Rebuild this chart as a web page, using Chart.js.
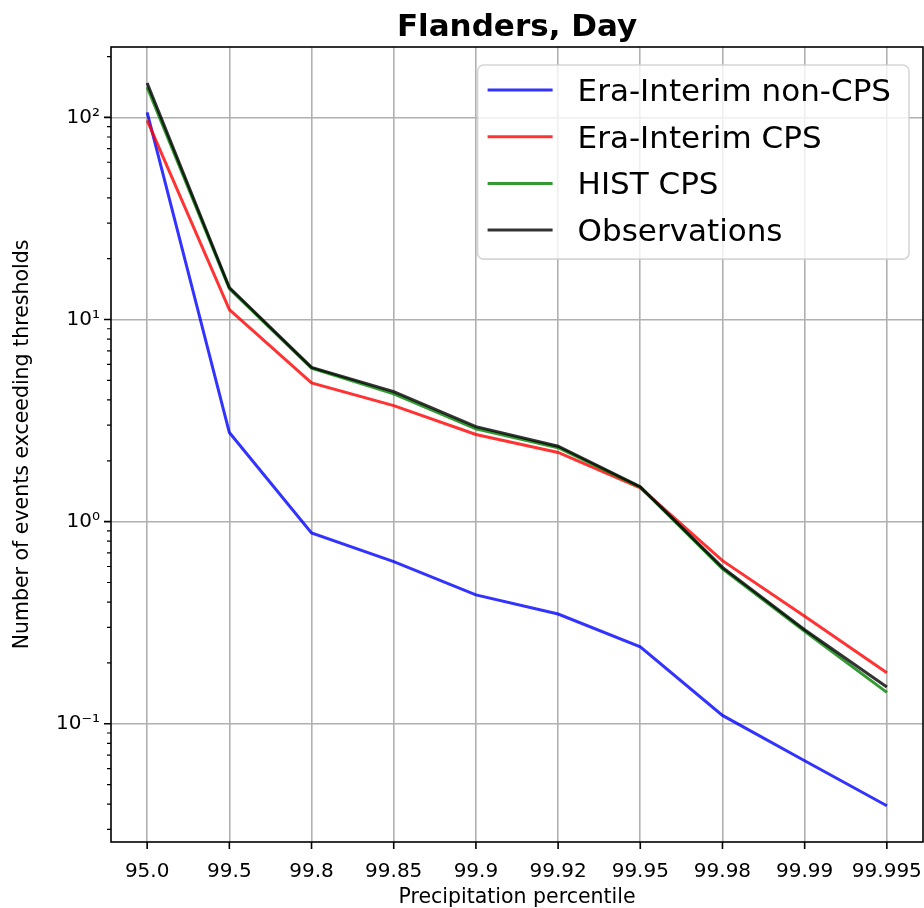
<!DOCTYPE html>
<html>
<head>
<meta charset="utf-8">
<title>Flanders, Day</title>
<script src="https://cdn.jsdelivr.net/npm/chart.js@4.4.1/dist/chart.umd.min.js"></script>
<style>
    html, body { margin: 0; padding: 0; background: #fff; }
    #wrap { width: 924px; height: 908px; }
</style>
</head>
<body>
<div id="wrap"><canvas id="chart" width="924" height="908"></canvas></div>
<script>
// precipitation percentiles on the x axis
const percentiles = ['95.0', '99.5', '99.8', '99.85', '99.9', '99.92', '99.95', '99.98', '99.99', '99.995'];

// number of events exceeding each threshold
const eraNonCps = [106, 2.76, 0.88, 0.634, 0.434, 0.349, 0.240, 0.110, 0.0656, 0.0393];
const eraCps = [96.7, 11.2, 4.86, 3.75, 2.70, 2.20, 1.47, 0.641, 0.340, 0.179];
const histCps = [141, 14.2, 5.75, 4.29, 2.88, 2.32, 1.48, 0.584, 0.287, 0.143];
const observations = [148, 14.4, 5.8, 4.40, 2.95, 2.36, 1.49, 0.594, 0.292, 0.152];

const seriesNames = ['Era-Interim non-CPS', 'Era-Interim CPS', 'HIST CPS', 'Observations'];
const seriesColors = ['rgba(0,0,255,0.8)', 'rgba(255,0,0,0.8)', 'rgba(0,128,0,0.8)', 'rgba(0,0,0,0.8)'];
const seriesValues = [eraNonCps, eraCps, histCps, observations];

// log axis labels
const yDecades = [0.1, 1, 10, 100];
const yDecadeLabels = ['10\u207B\u00B9', '10\u2070', '10\u00B9', '10\u00B2'];

const chartTitle = 'Flanders, Day';
const FONT = 'DejaVu Sans';

function isDecade(v) {
    const l = Math.log10(v);
    return Math.abs(l - Math.round(l)) < 1e-9;
}

// title over the axes, frame, tick marks and the legend box inside the plot
const frameAndLegend = {
    id: 'frameAndLegend',
    afterDatasetsDraw(chart) {
        const ctx = chart.ctx;
        const a = chart.chartArea;
        const x = chart.scales.x;
        const y = chart.scales.y;
        ctx.save();

        ctx.fillStyle = '#000';
        ctx.font = 'bold 31px "' + FONT + '"';
        ctx.textAlign = 'center';
        ctx.textBaseline = 'alphabetic';
        ctx.fillText(chartTitle, (a.left + a.right) / 2, a.top - 11);

        ctx.strokeStyle = '#000';
        ctx.lineWidth = 1.6;
        ctx.beginPath();
        x.ticks.forEach(t => {
            const px = x.getPixelForValue(t.value);
            ctx.moveTo(px, a.bottom);
            ctx.lineTo(px, a.bottom + 7);
        });
        y.ticks.forEach(t => {
            if (!isDecade(t.value)) return;
            const py = y.getPixelForValue(t.value);
            ctx.moveTo(a.left, py);
            ctx.lineTo(a.left - 7, py);
        });
        ctx.stroke();

        ctx.lineWidth = 1.2;
        ctx.beginPath();
        y.ticks.forEach(t => {
            if (isDecade(t.value)) return;
            const py = y.getPixelForValue(t.value);
            ctx.moveTo(a.left, py);
            ctx.lineTo(a.left - 4, py);
        });
        ctx.stroke();

        ctx.lineWidth = 1.6;
        ctx.strokeRect(a.left, a.top, a.right - a.left, a.bottom - a.top);

        // legend
        const fs = 31;
        ctx.font = fs + 'px "' + FONT + '"';
        let maxW = 0;
        seriesNames.forEach(n => { maxW = Math.max(maxW, ctx.measureText(n).width); });
        const rowH = 46.7;
        const boxW = 10 + 65 + 25 + maxW + 18;
        const boxH = 25 + rowH * (seriesNames.length - 1) + 29;
        const bx = a.right - 14 - boxW;
        const by = a.top + 18;

        ctx.beginPath();
        ctx.roundRect(bx, by, boxW, boxH, 6);
        ctx.fillStyle = 'rgba(255,255,255,0.8)';
        ctx.fill();
        ctx.strokeStyle = 'rgba(204,204,204,0.8)';
        ctx.lineWidth = 1.6;
        ctx.stroke();

        seriesNames.forEach((n, i) => {
            const ry = by + 25 + i * rowH;
            ctx.strokeStyle = seriesColors[i];
            ctx.lineWidth = 3;
            ctx.beginPath();
            ctx.moveTo(bx + 10, ry);
            ctx.lineTo(bx + 75, ry);
            ctx.stroke();
            ctx.fillStyle = '#000';
            ctx.textBaseline = 'alphabetic';
            ctx.textAlign = 'left';
            ctx.fillText(n, bx + 100, ry + 11);
        });

        ctx.restore();
    }
};

const datasets = seriesNames.map((name, i) => ({
    label: name,
    data: seriesValues[i].map((v, k) => ({ x: k, y: v })),
    borderColor: seriesColors[i],
    backgroundColor: seriesColors[i],
    borderWidth: 3,
    pointRadius: 0,
    tension: 0,
    order: seriesNames.length - 1 - i
}));

new Chart(document.getElementById('chart'), {
    type: 'line',
    data: { datasets: datasets },
    plugins: [frameAndLegend],
    options: {
        responsive: false,
        animation: false,
        layout: { padding: { left: 0, right: 1, top: 47, bottom: 0 } },
        plugins: {
            legend: { display: false },
            tooltip: { enabled: false },
            title: { display: false }
        },
        scales: {
            x: {
                type: 'linear',
                bounds: 'data',
                min: -0.44,
                max: percentiles.length - 1 + 0.44,
                afterBuildTicks: s => { s.ticks = percentiles.map((p, i) => ({ value: i })); },
                afterFit: s => { s.height = 66; s.paddingLeft = 0; s.paddingRight = 0; },
                ticks: {
                    callback: v => percentiles[v] ?? '',
                    autoSkip: false,
                    maxRotation: 0,
                    padding: 18,
                    color: '#000',
                    font: { family: FONT, size: 20 }
                },
                grid: { color: '#b0b0b0', lineWidth: 1.6, drawTicks: false },
                border: { display: false },
                title: {
                    display: true,
                    text: 'Precipitation percentile',
                    color: '#000',
                    font: { family: FONT, size: 20.5, lineHeight: 1 },
                    padding: { top: 0, bottom: 0 }
                }
            },
            y: {
                type: 'logarithmic',
                bounds: 'data',
                min: 0.026,
                max: 223,
                afterBuildTicks: s => {
                    const t = [];
                    for (let e = -2; e <= 2; e++) {
                        for (let m = 1; m <= 9; m++) {
                            const v = Number((m * Math.pow(10, e)).toPrecision(6));
                            if (v >= s.min && v <= s.max) t.push({ value: v });
                        }
                    }
                    s.ticks = t;
                },
                afterFit: s => { s.width = 111; s.paddingTop = 0; s.paddingBottom = 0; },
                ticks: {
                    callback: v => {
                        const k = yDecades.findIndex(d => Math.abs(d - v) < 1e-9 * d);
                        return k >= 0 ? yDecadeLabels[k] : '';
                    },
                    autoSkip: false,
                    padding: 11,
                    color: '#000',
                    font: { family: FONT, size: 20 }
                },
                grid: {
                    color: c => (c.tick && isDecade(c.tick.value)) ? '#b0b0b0' : 'rgba(0,0,0,0)',
                    lineWidth: 1.6,
                    drawTicks: false
                },
                border: { display: false },
                title: {
                    display: true,
                    text: 'Number of events exceeding thresholds',
                    color: '#000',
                    font: { family: FONT, size: 20.5, lineHeight: 1.2 },
                    padding: { top: 10, bottom: 0 }
                }
            }
        }
    }
});
</script>
</body>
</html>
